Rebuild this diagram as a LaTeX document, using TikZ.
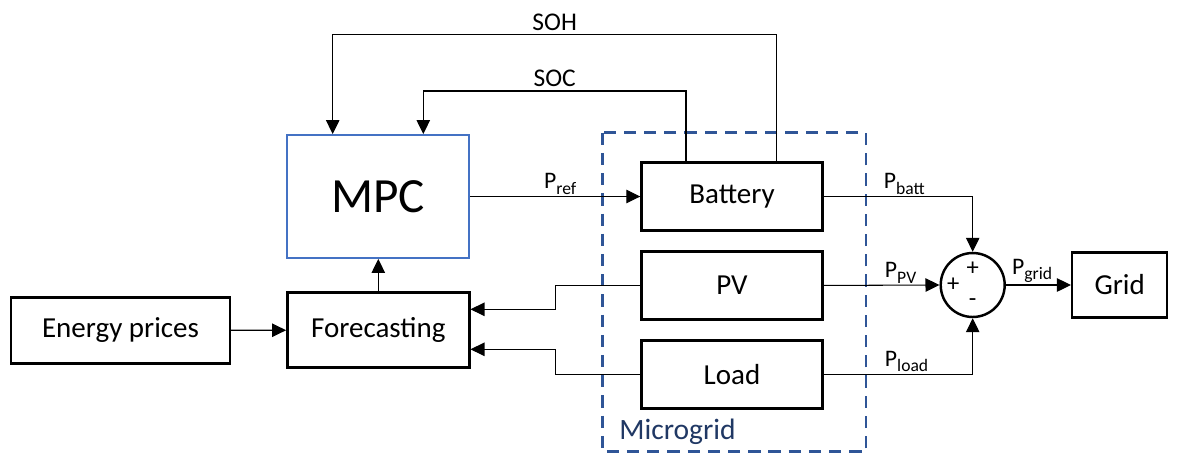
\documentclass[tikz,border=0pt]{standalone}
\usepackage{fontspec}
\setmainfont{Carlito}
\usepackage{xcolor}
\usetikzlibrary{positioning,arrows.meta}
\definecolor{mpcblue}{HTML}{4472C4}
\definecolor{mgblue}{HTML}{2F5597}
\definecolor{mgtext}{HTML}{203864}
\newcommand{\powsig}[1]{P\raisebox{-0.5ex}{\fontsize{10}{12}\selectfont #1}}
\tikzset{
    ctrlblock/.style={draw, line width=1.4pt, align=center, minimum width=3.62cm, minimum height=1.36cm, inner sep=0pt, font=\fontsize{16.5}{19}\selectfont},
    ctrlmpc/.style={draw=mpcblue, line width=1.1pt, minimum width=3.64cm, minimum height=2.46cm, font=\fontsize{28}{33}\selectfont},
    ctrlsum/.style={draw, circle, line width=1.4pt, minimum size=1.28cm, inner sep=0pt},
    ctrlsign/.style={font=\fontsize{14}{16}\selectfont, inner sep=0pt},
    ctrlarrow/.style={draw, line width=0.6pt, -{Triangle[length=0.28cm, width=0.27cm]}},
    ctrllabel/.style={font=\fontsize{13.5}{16}\selectfont, inner sep=1pt},
    ctrlsignal/.style={font=\fontsize{14.5}{17}\selectfont, inner sep=2pt},
    ctrlboundary/.style={draw=mgblue, line width=1.4pt, dash pattern=on 7pt off 4.5pt},
    ctrlgroup/.style={text=mgtext, font=\fontsize{16.8}{20}\selectfont}
}
\begin{document}
\begin{tikzpicture}[x=0.02cm, y=-0.02cm]
    \useasboundingbox (0,0) rectangle (1180,457);
    \draw[ctrlboundary] (602.5,132.7) rectangle (866,451.7);
    \node[ctrlgroup] (mglabel) at (677.5,432) {Microgrid};

    \node[ctrlblock, minimum width=4.38cm, minimum height=1.32cm] (prices) at (120.5,330.3) {Energy prices};
    \node[ctrlblock, minimum width=3.64cm, minimum height=1.5cm] (fcast) at (378.3,330.2) {Forecasting};
    \node[ctrlmpc] (mpc) at (378.3,196.5) {MPC};
    \node[ctrlblock] (batt) at (732,196.5) {Battery};
    \node[ctrlblock, below=0.37cm of batt] (pv) {PV};
    \node[ctrlblock, below=0.37cm of pv] (load) {Load};
    \node[ctrlsum] (sum) at (972.7,285) {};
    \node[ctrlblock, minimum width=1.9cm, minimum height=1.3cm, right=1.3cm of sum] (grid) {Grid};

    \node[ctrlsign] (splus) at ([yshift=0.33cm]sum.center) {+};
    \node[ctrlsign] (spluss) at ([xshift=-0.39cm]sum.center) {+};
    \node[ctrlsign] (sminus) at ([yshift=-0.35cm]sum.center) {-};

    \coordinate (socR) at (686,91);
    \coordinate (socL) at (423.3,91);
    \coordinate (sohR) at (776.7,34.3);
    \coordinate (sohL) at (332.7,34.3);
    \coordinate (pvturn) at (555.5,309.3);
    \coordinate (ldturn) at (555.5,349.3);

    \draw[ctrlarrow] (prices) -- (fcast);
    \draw[ctrlarrow] (fcast) -- (mpc);
    \draw[ctrlarrow] (mpc) -- node[ctrllabel, above, xshift=0.1cm] (pref) {\powsig{ref}} (batt);
    \draw[ctrlarrow] (batt.north -| socR) -- (socR) -- node[ctrlsignal, above] (soc) {SOC} (socL) -- (socL |- mpc.north);
    \draw[ctrlarrow] (batt.north -| sohR) -- (sohR) -- node[ctrlsignal, above] (soh) {SOH} (sohL) -- (sohL |- mpc.north);
    \draw[ctrlarrow] (pv.west) -| (pvturn) -- (fcast.east |- pvturn);
    \draw[ctrlarrow] (load.west) -| (ldturn) -- (fcast.east |- ldturn);

    \draw[ctrlarrow] (batt.east) -| node[ctrllabel, above right, pos=0, xshift=1.16cm] (pbatt) {\powsig{batt}} (sum.north);
    \draw[ctrlarrow] (pv.east) -- node[ctrllabel, above right, pos=0, xshift=1.18cm] (ppv) {\powsig{PV}} (sum.west);
    \draw[ctrlarrow] (load.east) -| node[ctrllabel, above right, pos=0, xshift=1.18cm] (pload) {\powsig{load}} (sum.south);
    \draw[ctrlarrow] (sum.east) -- node[ctrllabel, above right, pos=0, xshift=0.08cm] (pgrid) {\powsig{grid}} (grid.west);
\end{tikzpicture}
\end{document}
